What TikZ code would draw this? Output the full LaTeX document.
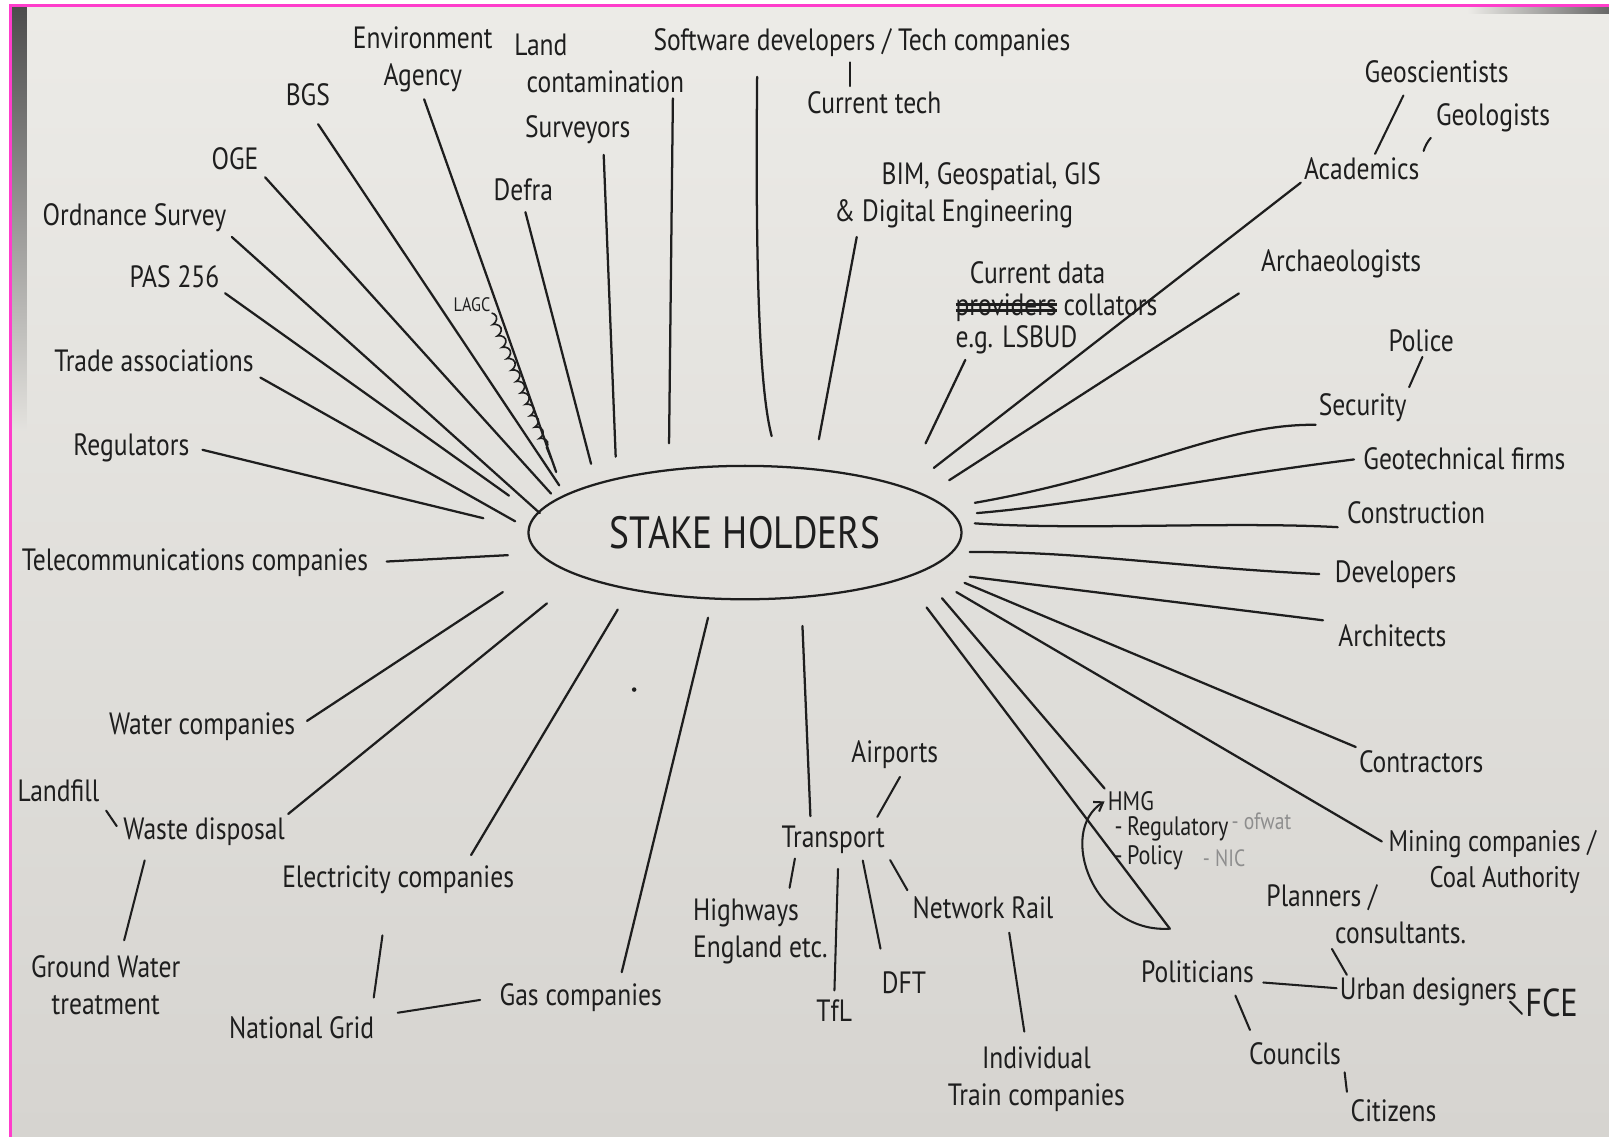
\documentclass[tikz,border=0pt]{standalone}
\usepackage{fontspec}
\setmainfont{PT Sans}[FakeStretch=0.83]
\newcommand{\scribout}[1]{\setbox0=\hbox{#1}\makebox[0pt][l]{\rule[0.12em]{\wd0}{3pt}}\makebox[0pt][l]{\rule[0.32em]{\wd0}{3pt}}\box0\relax}
\usetikzlibrary{shapes.geometric,decorations.pathmorphing,arrows.meta}
\definecolor{ink}{HTML}{1E1E1E}
\definecolor{paperA}{HTML}{ECEBE7}
\definecolor{paperB}{HTML}{D6D4D0}
\definecolor{frame}{HTML}{FF3DCB}
\definecolor{pencil}{HTML}{8E8E8E}
\begin{document}
\begin{tikzpicture}[x=1pt,y=-1pt,
  lbl/.style={font=\fontsize{30}{36}\selectfont, text=ink, inner sep=3pt},
  sml/.style={font=\fontsize{26}{28}\selectfont, text=ink, inner sep=3pt},
  note/.style={font=\fontsize{23}{25}\selectfont, text=pencil, inner sep=2pt},
  spoke/.style={draw=ink, line width=2.2pt, line cap=round},
  twig/.style={draw=ink, line width=2pt, line cap=round}]
\path[use as bounding box] (0,0) rectangle (1568,1108);
\clip (0,0) rectangle (1568,1108);
% paper
\fill[white] (0,0) rectangle (1568,1108);
\shade[top color=paperA, bottom color=paperB] (10,5) rectangle (1568,1108);
\shade[top color=black!70, bottom color=paperA!62!paperB] (11,6) rectangle (26,420);
\shade[left color=paperA, right color=black!60] (1430,6) rectangle (1568,13);
\draw[frame, line width=3pt] (1570,5) -- (10,5) -- (10,1110);

% hub
\node[draw=ink, line width=2.2pt, ellipse, minimum width=422pt, minimum height=130pt,
      inner sep=0pt, text=ink, font=\fontsize{44}{46}\selectfont] (hub) at (726,519) {STAKE HOLDERS};

% hub-side ends
\coordinate (hReg) at (471,505);
\coordinate (hTrade) at (502,508);
\coordinate (hPas) at (496,483);
\coordinate (hOs) at (526,500);
\coordinate (hOge) at (537,481);
\coordinate (hBgs) at (545,473);
\coordinate (hEa) at (542,460);
\coordinate (hLagc) at (537,447);
\coordinate (hDefra) at (576,452);
\coordinate (hSurv) at (600,445);
\coordinate (hLand) at (652,432);
\coordinate (hSw) at (752,425);
\coordinate (hBim) at (798,428);
\coordinate (hCd) at (902,432);
\coordinate (hAcad) at (910,456);
\coordinate (hArch) at (925,468);
\coordinate (hSec) at (950,490);
\coordinate (hGeo) at (952,500);
\coordinate (hCons) at (950,510);
\coordinate (hDev) at (945,538);
\coordinate (hArchi) at (945,562);
\coordinate (hContr) at (940,568);
\coordinate (hMin) at (932,577);
\coordinate (hHmg) at (918,583);
\coordinate (hPol) at (903,592);
\coordinate (polEnd) at (1140,905);
\coordinate (hTele) at (495,541);
\coordinate (hWater) at (490,577);
\coordinate (hWaste) at (533,588);
\coordinate (hElec) at (602,594);
\coordinate (hGas) at (690,602);
\coordinate (hTrans) at (782,610);

% top-left labels
\node[lbl] (reg) at (128,436) {Regulators};
\node[lbl] (trade) at (150,352) {Trade associations};
\node[lbl] (pas) at (170,270) {PAS 256};
\node[lbl] (os) at (131,212) {Ordnance Survey};
\node[lbl] (oge) at (229,155) {OGE};
\node[lbl] (bgs) at (300,92) {BGS};
\node[lbl, align=center] (ea) at (412,58) {Environment\\Agency};
\node[font=\fontsize{19}{20}\selectfont, text=ink, inner sep=1pt] (lagc) at (460,297) {LAGC};
\node[lbl] (defra) at (510,185) {Defra};
\node[lbl] (surv) at (563,126) {Surveyors};
\node[lbl, align=left, anchor=west] (land) at (498,62) {Land\\\hspace*{12pt}contamination};
\node[lbl] (sw) at (840,42) {Software developers / Tech companies};
\node[lbl] (ct) at (852,100) {Current tech};
\node[lbl, align=left, anchor=west] (bim) at (810,190) {\hspace*{46pt}BIM, Geospatial, GIS\\\& Digital Engineering};
\node[lbl, align=left, anchor=west, font=\fontsize{30}{31}\selectfont] (cd) at (928,300) {\hspace*{14pt}Current data\\\scribout{providers} collators\\e.g. LSBUD};

% right labels
\node[lbl] (acad) at (1327,164) {Academics};
\node[lbl] (geosci) at (1400,70) {Geoscientists};
\node[lbl] (geol) at (1455,115) {Geologists};
\node[lbl] (arch) at (1307,257) {Archaeologists};
\node[lbl] (police) at (1385,332) {Police};
\node[lbl] (sec) at (1328,397) {Security};
\node[lbl] (geo) at (1427,447) {Geotechnical firms};
\node[lbl] (cons) at (1380,500) {Construction};
\node[lbl] (dev) at (1360,560) {Developers};
\node[lbl] (archi) at (1357,620) {Architects};
\node[lbl] (contr) at (1385,742) {Contractors};
\node[lbl, align=left, anchor=west, font=\fontsize{29}{36}\selectfont] (mining) at (1350,840) {Mining companies /\\\hspace*{40pt}Coal Authority};
\node[sml] (hmg) at (1102,781) {HMG};
\node[sml, anchor=west] (regu) at (1083,808) {-\,Regulatory};
\node[sml, anchor=west] (poli) at (1083,836) {-\,Policy};
\node[note, anchor=west] (ofwat) at (1198,800) {- ofwat};
\node[note, anchor=west] (nic) at (1170,836) {- NIC};
\node[lbl, align=left, anchor=west] (plan) at (1231,891) {Planners /\\\hspace*{67pt}consultants.};
\node[lbl] (pol) at (1167,947) {Politicians};
\node[lbl] (urb) at (1392,967) {Urban designers};
\node[lbl, font=\fontsize{38}{40}\selectfont] (fce) at (1512,977) {FCE};
\node[lbl] (coun) at (1262,1027) {Councils};
\node[lbl] (cit) at (1358,1082) {Citizens};

% bottom labels
\node[lbl] (tele) at (190,548) {Telecommunications companies};
\node[lbl] (water) at (197,708) {Water companies};
\node[lbl] (landfill) at (57,771) {Landfill};
\node[lbl] (waste) at (199,810) {Waste disposal};
\node[lbl, align=center] (gw) at (103,960) {Ground Water\\treatment};
\node[lbl] (elec) at (388,857) {Electricity companies};
\node[lbl] (ng) at (294,1002) {National Grid};
\node[lbl] (gas) at (566,972) {Gas companies};
\node[lbl] (trans) at (812,818) {Transport};
\node[lbl] (air) at (872,735) {Airports};
\node[lbl, align=left] (high) at (741,908) {Highways\\England etc.};
\node[lbl] (tfl) at (813,985) {TfL};
\node[lbl] (dft) at (881,958) {DFT};
\node[lbl] (nr) at (958,885) {Network Rail};
\node[lbl, align=center] (itc) at (1010,1052) {Individual\\Train companies};

% stray pen dot
\fill[ink] (618,672) circle (2.2pt);

% spokes: top-left
\draw[spoke, shorten <=10pt] (reg.east) -- (hReg);
\draw[spoke, shorten <=4pt] (trade.south east) -- (hTrade);
\draw[spoke, shorten <=3pt] (pas.south east) -- (hPas);
\draw[spoke, shorten <=3pt] (os.south east) -- (hOs);
\draw[spoke, shorten <=5pt] (oge.south east) -- (hOge);
\draw[spoke, shorten <=18pt] (bgs.south) -- (hBgs);
\draw[spoke, shorten <=4pt] (ea.south) -- (hEa);
\draw[draw=ink, line width=1.6pt, decorate, decoration={coil, aspect=0.6, amplitude=3pt, segment length=12pt}] (lagc.south east) -- (hLagc);
\draw[spoke, shorten <=8pt] (defra.south) -- (hDefra);
\draw[spoke, shorten <=8pt] ([xshift=25pt]surv.south) -- (hSurv);
\draw[spoke, shorten <=2pt] ([xshift=-14pt]land.south east) -- (hLand);
\draw[spoke, shorten <=16pt] ([xshift=-102pt]sw.south) .. controls (736,260) and (740,380) .. (hSw);
\draw[twig, shorten <=2pt, shorten >=2pt] ([xshift=-12pt]sw.south) -- ([xshift=-24pt]ct.north);
\draw[spoke, shorten <=6pt] ([xshift=26pt]bim.south west) -- (hBim);
\draw[spoke, shorten <=3pt] ([xshift=14pt]cd.south west) -- (hCd);

% spokes: right
\draw[spoke] (acad.south west) -- (hAcad);
\draw[twig, shorten >=10pt] ([xshift=13pt]acad.north) -- ([xshift=-28pt]geosci.south);
\draw[twig, shorten <=3pt, shorten >=3pt] (acad.north east) to[bend left=12] (geol.south west);
\draw[spoke, shorten <=22pt] (arch.south west) -- (hArch);
\draw[twig, shorten <=3pt, shorten >=2pt] ([xshift=44pt]sec.north) -- ([xshift=2pt]police.south);
\draw[spoke] (sec.south west) .. controls (1190,413) and (1110,462) .. (hSec);
\draw[spoke, shorten <=6pt] (geo.west) .. controls (1180,465) and (1050,492) .. (hGeo);
\draw[spoke, shorten <=6pt] (cons.south west) .. controls (1200,508) and (1050,517) .. (hCons);
\draw[spoke, shorten <=12pt] (dev.west) .. controls (1150,553) and (1050,537) .. (hDev);
\draw[spoke, shorten <=12pt] (archi.north west) -- (hArchi);
\draw[spoke] (contr.north west) -- (hContr);
\draw[spoke, shorten <=4pt] ([yshift=18pt]mining.west) -- (hMin);
\draw[spoke] (hmg.north west) -- (hHmg);
\draw[spoke] (hPol) -- (polEnd);
\draw[twig, -{Straight Barb[length=8pt,width=11pt]}] (polEnd) .. controls (1065,910) and (1030,810) .. (hmg.west);
\draw[twig, shorten <=6pt] ([yshift=-10pt]pol.east) -- ([yshift=4pt]urb.west);
\draw[twig, shorten <=2pt] ([xshift=66pt]plan.south west) -- ([xshift=10pt]urb.north west);
\draw[twig] ([xshift=-10pt,yshift=8pt]urb.south east) -- ([yshift=6pt]fce.south west);
\draw[twig, shorten <=10pt, shorten >=10pt] ([xshift=33pt]pol.south) -- ([xshift=-40pt]coun.north);
\draw[twig, shorten <=4pt, shorten >=4pt] (coun.south east) -- (cit.north west);

% spokes: bottom
\draw[spoke, shorten <=15pt] (tele.east) -- (hTele);
\draw[spoke, shorten <=10pt] (water.east) -- (hWater);
\draw[spoke] (waste.north east) -- (hWaste);
\draw[twig, shorten <=6pt, shorten >=6pt] (landfill.south east) -- (waste.west);
\draw[twig, shorten <=12pt, shorten >=12pt] ([xshift=-55pt]waste.south) -- ([xshift=15pt]gw.north);
\draw[spoke, shorten <=8pt] ([xshift=67pt]elec.north) -- (hElec);
\draw[twig, shorten <=38pt, shorten >=16pt] ([xshift=-10pt]elec.south) -- ([xshift=68pt]ng.north);
\draw[twig, shorten <=20pt, shorten >=16pt] ([yshift=12pt]ng.east) -- (gas.west);
\draw[spoke, shorten <=8pt] ([xshift=38pt]gas.north) -- (hGas);
\draw[spoke, shorten <=6pt] ([xshift=-22pt]trans.north) -- (hTrans);
\draw[twig, shorten <=6pt, shorten >=6pt] ([xshift=40pt]trans.north) -- ([xshift=8pt]air.south);
\draw[twig, shorten <=2pt, shorten >=8pt] ([xshift=-37pt]trans.south) -- ([xshift=27pt]high.north);
\draw[twig, shorten <=12pt, shorten >=6pt] ([xshift=5pt]trans.south) -- (tfl.north);
\draw[twig, shorten <=4pt, shorten >=20pt] ([xshift=28pt]trans.south) -- ([xshift=-19pt]dft.north);
\draw[twig, shorten <=4pt, shorten >=4pt] (trans.south east) -- (nr.north west);
\draw[twig, shorten <=10pt, shorten >=12pt] ([xshift=24pt]nr.south) -- ([xshift=-10pt]itc.north);
\end{tikzpicture}
\end{document}
